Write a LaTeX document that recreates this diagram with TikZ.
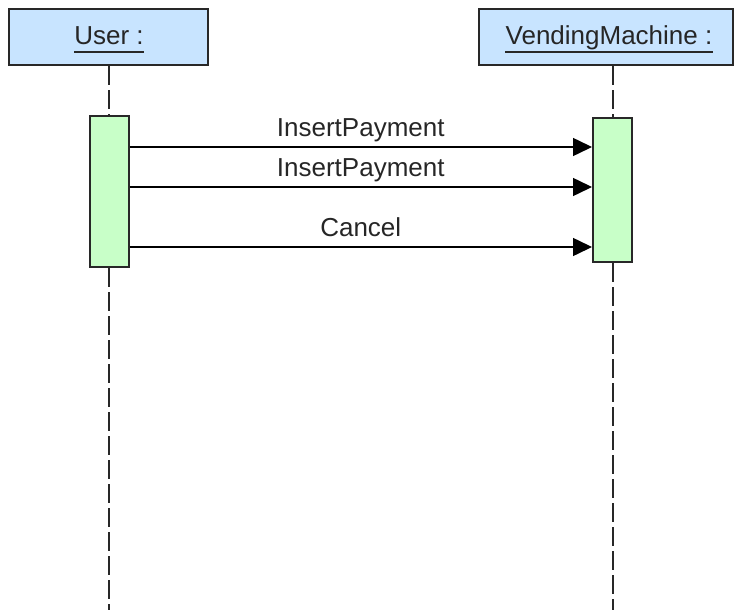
\documentclass[tikz,border=0pt]{standalone}
\usepackage{fontspec}
\setmainfont{Liberation Sans}
\usetikzlibrary{arrows.meta}
\definecolor{headfill}{RGB}{200,228,255}
\definecolor{actfill}{RGB}{200,255,200}
\definecolor{edge}{RGB}{40,40,40}
\begin{document}
\begin{tikzpicture}[x=1pt,y=-1pt,
  headbox/.style={draw=edge,line width=2pt,fill=headfill,minimum height=56pt,inner sep=0pt},
  actbox/.style={draw=edge,line width=2pt,fill=actfill,minimum width=39pt,inner sep=0pt},
  htext/.style={inner sep=0pt,font=\fontsize{26}{30}\selectfont,text=black!85},
  lbl/.style={inner sep=0pt,font=\fontsize{26}{30}\selectfont,text=black!85},
  life/.style={draw=edge,line width=2pt,dash pattern=on 19pt off 5pt},
  msg/.style={draw=black,line width=1.5pt,-{Triangle[length=19pt,width=18pt]}},
  uline/.style={draw=edge,line width=1.6pt}]
\useasboundingbox (0,0) rectangle (735,610);
% headers
\node[headbox,minimum width=199pt] (user) at (108.5,37) {};
\node[headbox,minimum width=254pt] (vm) at (606,37) {};
\node[htext,anchor=base] (ut) at (109,45) {User :};
\node[htext,anchor=base] (vt) at (609,45) {VendingMachine :};
\draw[uline] ([yshift=-7pt]ut.base west) -- ([yshift=-7pt]ut.base east);
\draw[uline] ([yshift=-7pt]vt.base west) -- ([yshift=-7pt]vt.base east);
% activations geometry
\coordinate (uend) at (109,610);
\coordinate (vend) at (612.5,610);
\node[actbox,minimum height=151pt] (ua) at (109,191.5) {};
\node[actbox,minimum height=144pt] (va) at (612.5,190) {};
% lifelines
\draw[life] (ua.north |- user.south) -- (ua.north);
\draw[life] (ua.south) -- (uend);
\draw[life] (va.north |- vm.south) -- (va.north);
\draw[life] (va.south) -- (vend);
% redraw activations on top
\node[actbox,minimum height=151pt] at (ua) {};
\node[actbox,minimum height=144pt] at (va) {};
% messages
\coordinate (m1) at (0,147);
\coordinate (m2) at (0,187);
\coordinate (m3) at (0,247);
\draw[msg] (ua.east |- m1) -- node[lbl,anchor=base,yshift=11pt] {InsertPayment} (va.west |- m1);
\draw[msg] (ua.east |- m2) -- node[lbl,anchor=base,yshift=11pt] {InsertPayment} (va.west |- m2);
\draw[msg] (ua.east |- m3) -- node[lbl,anchor=base,yshift=11pt] {Cancel} (va.west |- m3);
\end{tikzpicture}
\end{document}
